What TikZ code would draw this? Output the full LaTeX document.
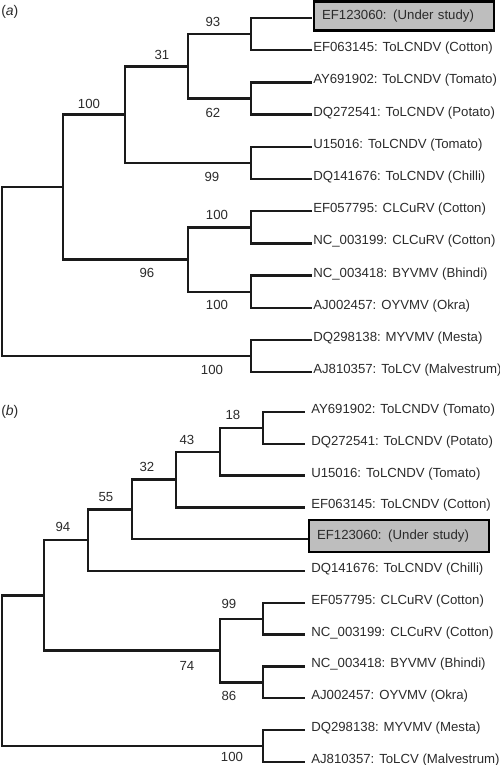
\documentclass[tikz,border=0pt]{standalone}
\usepackage{fontspec}
\setmainfont{Liberation Sans}

\begin{document}
\begin{tikzpicture}[
  x=0.75pt, y=-0.75pt,
  font=\fontsize{9.9}{11}\selectfont,
  br/.style={draw=cTree, line width=1.8pt},
  bs/.style={text=cText, inner sep=0pt},
  leaf/.style={text=cText, inner sep=0pt, anchor=base west},
  tag/.style={text=cText, inner sep=0pt, anchor=west, font=\fontsize{10.5}{12}\selectfont},
  studybox/.style={draw=black, line width=1.6pt, fill=cBox, text=cText, anchor=west,
    inner xsep=6pt, inner ysep=0pt, text width=123pt, align=left},
]
\definecolor{cTree}{HTML}{1A1A1A}   % branch lines
\definecolor{cText}{HTML}{2B2B2B}   % labels
\definecolor{cBox}{HTML}{BEBEBE}    % sample under study

\useasboundingbox (0,0) rectangle (500,765);

% =====================================================================
% Tree (a) -- top
% =====================================================================
\node[tag] (capA) at (1,12) {(\textit{a})};

% leaves: line ends at x=312, 32.2 apart
\coordinate (a1) at (312,18);
\node[studybox, minimum height=21.75pt] (ta1) at (313,16) {EF123060: (Under study)};
\foreach \i/\txt in {2/{EF063145: ToLCNDV (Cotton)},
                     3/{AY691902: ToLCNDV (Tomato)},
                     4/{DQ272541: ToLCNDV (Potato)},
                     5/{U15016: ToLCNDV (Tomato)},
                     6/{DQ141676: ToLCNDV (Chilli)},
                     7/{EF057795: CLCuRV (Cotton)},
                     8/{NC\_003199: CLCuRV (Cotton)},
                     9/{NC\_003418: BYVMV (Bhindi)},
                     10/{AJ002457: OYVMV (Okra)},
                     11/{DQ298138: MYVMV (Mesta)},
                     12/{AJ810357: ToLCV (Malvestrum)}}{
  \pgfmathsetmacro{\yy}{18+(\i-1)*32.2}
  \coordinate (a\i) at (312,\yy);
  \node[leaf] (ta\i) at (313,\yy+1.5) {\txt};
}

% internal nodes
\coordinate (pA1) at (251,34.1);
\coordinate (pA2) at (251,98.5);
\coordinate (pA3) at (251,162.9);
\coordinate (pA4) at (251,227.3);
\coordinate (pA5) at (251,291.7);
\coordinate (pA6) at (251,356.1);
\coordinate (kA31)  at (188,66.3);
\coordinate (kA100) at (125,114.6);
\coordinate (kA96)  at (188,259.5);
\coordinate (kAtop) at (63,187);
\coordinate (rootA) at (2,271.6);

\foreach \p/\u/\v in {pA1/a1/a2, pA2/a3/a4, pA3/a5/a6, pA4/a7/a8, pA5/a9/a10, pA6/a11/a12,
                      kA31/pA1/pA2, kA100/kA31/pA3, kA96/pA4/pA5,
                      kAtop/kA100/kA96, rootA/kAtop/pA6}{
  \draw[br] (\p) |- (\u);
  \draw[br] (\p) |- (\v);
}

% bootstrap values
\node[bs] (sA93)  at (213,22)  {93};
\node[bs] (sA62)  at (213,113) {62};
\node[bs] (sA31)  at (162,55)  {31};
\node[bs] (sA99)  at (212,177) {99};
\node[bs] (sA100) at (89,104)  {100};
\node[bs] (sA96)  at (147,273) {96};
\node[bs] (sA100b) at (217,215) {100};
\node[bs] (sA100c) at (217,305) {100};
\node[bs] (sA100d) at (212,370) {100};

% =====================================================================
% Tree (b) -- bottom
% =====================================================================
\node[tag] (capB) at (1,412) {(\textit{b})};

% leaves: line ends at x=305, 31.8 apart
\coordinate (b5) at (308,539.2);
\node[studybox, minimum height=24pt] (tb5) at (308,536) {EF123060: (Under study)};
\foreach \i/\txt in {1/{AY691902: ToLCNDV (Tomato)},
                     2/{DQ272541: ToLCNDV (Potato)},
                     3/{U15016: ToLCNDV (Tomato)},
                     4/{EF063145: ToLCNDV (Cotton)},
                     6/{DQ141676: ToLCNDV (Chilli)},
                     7/{EF057795: CLCuRV (Cotton)},
                     8/{NC\_003199: CLCuRV (Cotton)},
                     9/{NC\_003418: BYVMV (Bhindi)},
                     10/{AJ002457: OYVMV (Okra)},
                     11/{DQ298138: MYVMV (Mesta)},
                     12/{AJ810357: ToLCV (Malvestrum)}}{
  \pgfmathsetmacro{\yy}{412+(\i-1)*31.8}
  \coordinate (b\i) at (305,\yy);
  \node[leaf] (tb\i) at (311,\yy+1.5) {\txt};
}

% internal nodes
\coordinate (qB1) at (263,427.9);
\coordinate (qB2) at (263,618.7);
\coordinate (qB3) at (263,682.3);
\coordinate (qB4) at (263,745.9);
\coordinate (kB18) at (220,451.75);
\coordinate (kB43) at (176,479.6);
\coordinate (kB32) at (132,509.4);
\coordinate (kB55) at (88,540.2);
\coordinate (kB74) at (220,650.5);
\coordinate (kB94) at (44,595.3);
\coordinate (rootB) at (2,670.6);

\foreach \p/\u/\v in {qB1/b1/b2, qB2/b7/b8, qB3/b9/b10, qB4/b11/b12,
                      kB18/qB1/b3, kB43/kB18/b4, kB32/kB43/b5, kB55/kB32/b6,
                      kB74/qB2/qB3, kB94/kB55/kB74, rootB/kB94/qB4}{
  \draw[br] (\p) |- (\u);
  \draw[br] (\p) |- (\v);
}

% bootstrap values
\node[bs] (sB18)  at (233,415) {18};
\node[bs] (sB43)  at (187,440) {43};
\node[bs] (sB32)  at (147,467) {32};
\node[bs] (sB55)  at (106,497) {55};
\node[bs] (sB94)  at (63,527)  {94};
\node[bs] (sB99)  at (229,604) {99};
\node[bs] (sB74)  at (187,666) {74};
\node[bs] (sB86)  at (229,696) {86};
\node[bs] (sB100) at (232,757) {100};

\end{tikzpicture}
\end{document}
